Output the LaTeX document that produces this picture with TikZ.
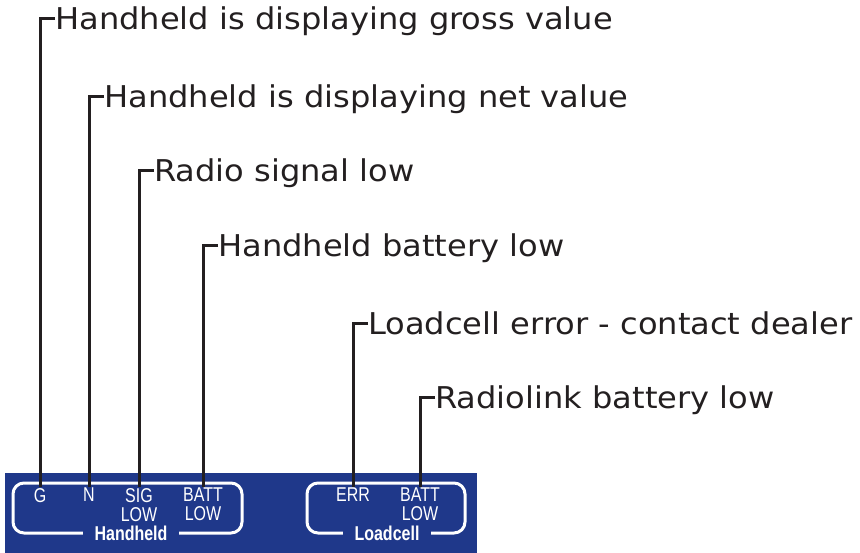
\documentclass[tikz,border=0pt]{standalone}
\usepackage{fontspec}
\newfontfamily\labfont{DejaVu Sans}[FakeStretch=1.07]
\newfontfamily\condfont{Liberation Sans}[FakeStretch=0.8]
\definecolor{bandblue}{RGB}{31,56,138}
\definecolor{ink}{RGB}{35,31,32}
\begin{document}
\begin{tikzpicture}[x=1pt,y=-1pt,
  lead/.style={draw=ink,line width=3pt},
  desc/.style={anchor=west,inner sep=0pt,text height=22pt,text depth=0pt,
    text=ink,font=\labfont\fontsize{30}{36}\selectfont},
  item/.style={anchor=north,inner sep=1pt,text=white,align=center,
    font=\condfont\fontsize{20}{19}\selectfont},
  group/.style={draw=white,line width=3pt,rounded corners=11pt},
  grouplabel/.style={fill=bandblue,inner xsep=12pt,inner ysep=0pt,text=white,
    font=\condfont\bfseries\fontsize{20}{20}\selectfont}]
\useasboundingbox (0,0) rectangle (860,553);
\fill[bandblue] (5,473) rectangle (477,553);
% groups
\draw[group] (13,483) rectangle (242,533);
\draw[group] (307,483) rectangle (465,533);
\node[grouplabel] (hh) at (131,533) {Handheld};
\node[grouplabel] (lc) at (387,533) {Loadcell};
% items
\node[item] (g) at (40,487) {G};
\node[item] (n) at (89,487) {N};
\node[item] (sig) at (139,487) {SIG\\LOW};
\node[item] (batt) at (203,487) {BATT\\LOW};
\node[item] (err) at (353,487) {ERR};
\node[item] (rbatt) at (420,487) {BATT\\LOW};
% descriptions
\node[desc] (d1) at (55,19) {Handheld is displaying gross value};
\node[desc] (d2) at (104,97) {Handheld is displaying net value};
\node[desc] (d3) at (154,171) {Radio signal low};
\node[desc] (d4) at (218,246) {Handheld battery low};
\node[desc] (d5) at (368,324) {Loadcell error - contact dealer};
\node[desc] (d6) at (435,398) {Radiolink battery low};
% leaders
\draw[lead] (d1.west) -| (g.north);
\draw[lead] (d2.west) -| (n.north);
\draw[lead] (d3.west) -| (sig.north);
\draw[lead] (d4.west) -| (batt.north);
\draw[lead] (d5.west) -| (err.north);
\draw[lead] (d6.west) -| (rbatt.north);
\end{tikzpicture}
\end{document}
